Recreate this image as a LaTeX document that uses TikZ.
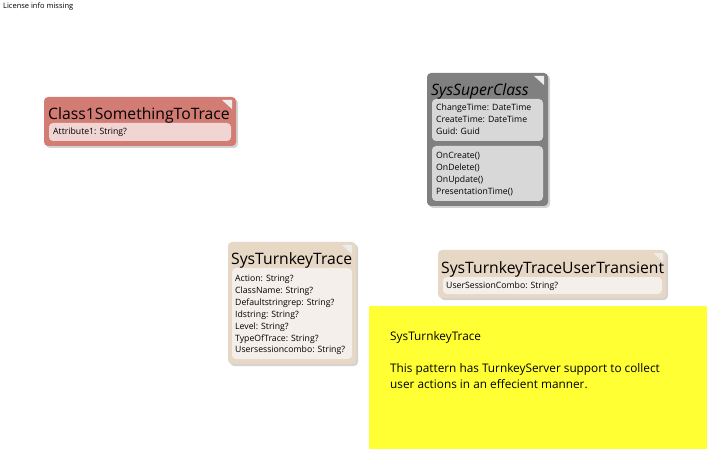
\documentclass[tikz,border=0pt]{standalone}
\usepackage{fontspec}
\setmainfont{Open Sans}
\usetikzlibrary{shadows}
\definecolor{redcls}{HTML}{D37C74}
\definecolor{redin}{HTML}{F1D5D3}
\definecolor{graycls}{HTML}{808080}
\definecolor{grayin}{HTML}{D8D8D8}
\definecolor{beigecls}{HTML}{E7D7C5}
\definecolor{beigein}{HTML}{F4EFEA}
\definecolor{notecol}{HTML}{FFFF33}
\tikzset{
  clsbox/.style={rounded corners=4pt,drop shadow={shadow xshift=2pt,shadow yshift=-2pt,opacity=.35}},
  inbox/.style={rounded corners=4pt},
  clstitle/.style={anchor=base west,inner sep=0pt,font=\fontsize{15.7}{18}\selectfont},
  members/.style={anchor=north west,inner sep=0pt,align=left,font=\fontsize{8.7}{11.9}\selectfont},
  corner/.style={fill=white!85!gray}
}
\begin{document}
\begin{tikzpicture}[x=1pt,y=-1pt]
\useasboundingbox (0,0) rectangle (707,449);
%%% Hinweis oben links
	\node[anchor=base west,inner sep=0pt,font=\fontsize{7.5}{9}\selectfont] (lic) at (3,9) {License info missing};
%%% Class1SomethingToTrace
	\fill[redcls,clsbox] (44,97) rectangle (236,146);
	\fill[redin,inbox] (49,123) rectangle (231,141);
	\fill[corner] (222,100) -- (232,100) -- (232,109) -- cycle;
	\node[clstitle] (c1) at (48,120) {Class1SomethingToTrace};
	\node[members] (c1a) at (53,128) {Attribute1: String?};
%%% SysSuperClass
	\fill[graycls,clsbox] (427,73) rectangle (548,206);
	\fill[grayin,inbox] (432,99) rectangle (543,141);
	\fill[grayin,inbox] (432,146) rectangle (543,201);
	\fill[corner] (534,76) -- (544,76) -- (544,85) -- cycle;
	\node[clstitle,font=\fontsize{15.7}{18}\selectfont\itshape] (sup) at (431,96) {SysSuperClass};
	\node[members] (supa) at (436,104) {ChangeTime: DateTime\\CreateTime: DateTime\\Guid: Guid};
	\node[members] (supm) at (436,152) {OnCreate()\\OnDelete()\\OnUpdate()\\PresentationTime()};
%%% SysTurnkeyTrace
	\fill[beigecls,clsbox] (228,242) rectangle (356,364);
	\fill[beigein,inbox] (232,268) rectangle (352,359);
	\fill[corner] (342,245) -- (352,245) -- (352,254) -- cycle;
	\node[clstitle] (trc) at (231,265) {SysTurnkeyTrace};
	\node[members] (trca) at (235,275) {Action: String?\\ClassName: String?\\Defaultstringrep: String?\\Idstring: String?\\Level: String?\\TypeOfTrace: String?\\Usersessioncombo: String?};
%%% SysTurnkeyTraceUserTransient
	\fill[beigecls,clsbox] (438,250) rectangle (666,298);
	\fill[beigein,inbox] (443,277) rectangle (662,294);
	\fill[corner] (653,253) -- (663,253) -- (663,262) -- cycle;
	\node[clstitle] (usr) at (441,273) {SysTurnkeyTraceUserTransient};
	\node[members] (usra) at (446,282) {UserSessionCombo: String?};
%%% Notiz
	\fill[notecol] (369,306) rectangle (707,449);
	\node[anchor=north west,inner sep=0pt,align=left,font=\fontsize{11.8}{16}\selectfont] (note) at (390,331)
		{SysTurnkeyTrace\\[16pt]This pattern has TurnkeyServer support to collect\\user actions in an effecient manner.};
\end{tikzpicture}
\end{document}
